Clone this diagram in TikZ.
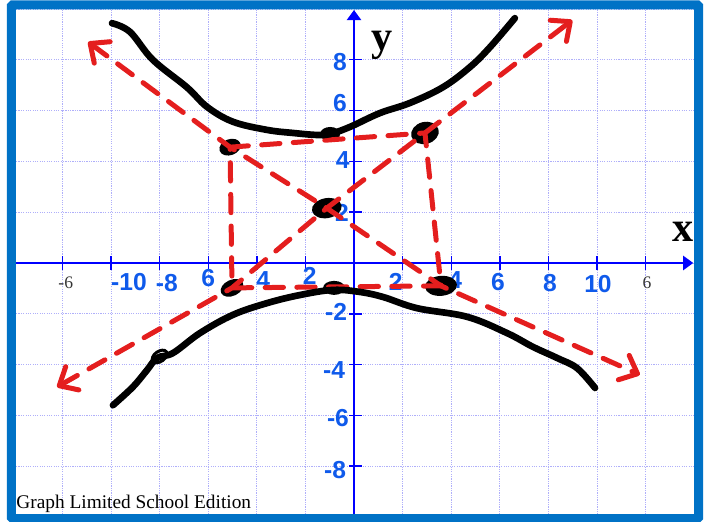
\documentclass[tikz,border=0pt]{standalone}
\usepackage{fontspec}
\setmainfont{Liberation Serif}
\setsansfont{Liberation Sans}
\usepackage{tikz}
\usetikzlibrary{shapes.geometric, arrows.meta, positioning}
\definecolor{framblue}{RGB}{0, 114, 198}
\definecolor{gridblue}{RGB}{175, 175, 250}
\definecolor{axisblue}{RGB}{0, 0, 255}
\definecolor{penblue}{RGB}{15, 90, 235}
\definecolor{markerred}{RGB}{228, 30, 30}
\tikzset{
  gridline/.style={draw=gridblue, line width=0.7pt, dash pattern=on 1pt off 1pt},
  axisline/.style={axisblue, line width=1.8pt, -{Triangle[length=3mm, width=4.2mm]}},
  tickmark/.style={axisblue, line width=1.2pt},
  blackpen/.style={black, line width=2mm, line cap=round, line join=round},
  redpen/.style={markerred, line width=1.5mm, line cap=round, line join=round, dash pattern=on 5.5mm off 4mm},
  redarrow/.style={redpen, {Straight Barb[length=4.5mm, width=8mm, round]}-{Straight Barb[length=4.5mm, width=8mm, round]}},
  blob/.style={ellipse, fill=black, inner sep=0pt},
  handlabel/.style={text=penblue, font=\sffamily\bfseries\fontsize{21}{21}\selectfont, inner sep=0pt},
  printlabel/.style={text=black!80, font=\fontsize{15}{15}\selectfont, inner sep=0pt},
  axislabel/.style={font=\bfseries\fontsize{36}{36}\selectfont, inner sep=0pt},
  framebox/.style={draw=framblue, line width=2.7mm, rounded corners=1pt}
}
\begin{document}
\begin{tikzpicture}[x=1.458cm, y=1.524cm]
    \useasboundingbox (-7.284,-5.098) rectangle (7.366,5.177);
    \foreach \i in {-7,...,7} \draw[gridline] (\i,-5) -- (\i,5);
    \foreach \j in {-5,...,5} \draw[gridline] (-7,\j) -- (7,\j);

    \draw[axisline] (-7,0) -- (6.98,0);
    \draw[axisline] (0,-5) -- (0,4.98);
    \foreach \i in {-6,...,-1,1,2,...,6} \draw[tickmark] (\i,-0.14) -- (\i,0.14);
    \foreach \j in {-4,...,-1,1,2,...,4} \draw[tickmark] (-0.1,\j) -- (0.16,\j);

    \node[printlabel] (pl) at (-5.93,-0.39) {-6};
    \node[printlabel] (pr) at (6.03,-0.39) {6};

    \foreach \gx/\gy/\txt [count=\k] in {-4.63/-0.37/-10, -3.85/-0.39/-8, -3.0/-0.30/6, -1.87/-0.33/4,
        -0.91/-0.26/2, 0.86/-0.37/2, 2.08/-0.33/4, 2.96/-0.37/6, 4.03/-0.39/8, 5.02/-0.41/10}
      \node[handlabel] (hx\k) at (\gx,\gy) {\txt};
    \foreach \gx/\gy/\txt [count=\k] in {-0.29/3.96/8, -0.29/3.15/6, -0.23/2.03/4, -0.25/0.98/2,
        -0.37/-0.96/-2, -0.41/-2.11/-4, -0.33/-3.05/-6, -0.39/-4.07/-8}
      \node[handlabel] (hy\k) at (\gx,\gy) {\txt};

    \node[blob, minimum width=0.66cm, minimum height=0.48cm, rotate=20] (A) at (-2.55,2.28) {};
    \node[blob, minimum width=0.60cm, minimum height=0.42cm] (V1) at (-0.49,2.54) {};
    \node[blob, minimum width=0.84cm, minimum height=0.66cm, rotate=15] (B) at (1.46,2.56) {};
    \node[blob, minimum width=0.90cm, minimum height=0.60cm, rotate=10] (C) at (-0.56,1.08) {};
    \node[blob, minimum width=0.72cm, minimum height=0.48cm, rotate=25] (D) at (-2.51,-0.49) {};
    \node[blob, minimum width=0.66cm, minimum height=0.42cm] (V2) at (-0.41,-0.49) {};
    \node[blob, minimum width=0.96cm, minimum height=0.60cm, rotate=5] (E) at (1.79,-0.45) {};

    \coordinate (t1) at (-5.47,4.35);
    \coordinate (r1) at (5.88,-2.20);
    \coordinate (t2) at (-6.11,-2.44);
    \coordinate (r2) at (4.49,4.78);
    \draw[redarrow] (t1) -- (A.center) -- (C.center) -- (E.center) -- (r1);
    \draw[redarrow] (t2) -- (D.center) -- (C.center) -- (B.center) -- (r2);
    \draw[redpen] (A.center) -- (B.center) -- (E.center) -- (D.center) -- cycle;

    \draw[blackpen] plot[smooth, tension=0.6] coordinates {(-4.98,4.72) (-4.61,4.55) (-4.14,4.00)
        (-3.44,3.46) (-3.02,3.07) (-2.49,2.78) (-1.79,2.62) (-1.26,2.56) (-0.76,2.52) (-0.49,2.54)
        (-0.08,2.68) (0.53,2.95) (1.15,3.15) (1.83,3.46) (2.39,3.86) (2.80,4.25) (3.31,4.82)};
    \draw[blackpen] plot[smooth, tension=0.6] coordinates {(-4.96,-2.80) (-4.55,-2.44) (-4.26,-2.11)
        (-4.05,-1.87) (-3.72,-1.77) (-3.17,-1.38) (-2.49,-1.02) (-1.79,-0.79) (-1.11,-0.63)
        (-0.43,-0.53) (0.12,-0.57) (0.60,-0.67) (1.30,-0.89) (2.33,-1.06) (3.15,-1.38)
        (3.68,-1.65) (4.18,-1.87) (4.59,-2.07) (4.96,-2.46)};
    \draw[black, line width=0.9mm, rotate around={35:(-4.0,-1.84)}] (-4.0,-1.84) ellipse (0.17 and 0.1);

    \node[axislabel] (xl) at (6.77,0.61) {x};
    \node[axislabel] (yl) at (0.58,4.29) {y};
    \node[anchor=base west, inner sep=0pt, font=\fontsize{16.5}{16.5}\selectfont] (ed) at (-6.95,-4.84) {Graph Limited School Edition};

    \draw[framebox] (-7.05,-5.03) rectangle (7.09,5.08);
\end{tikzpicture}
\end{document}
